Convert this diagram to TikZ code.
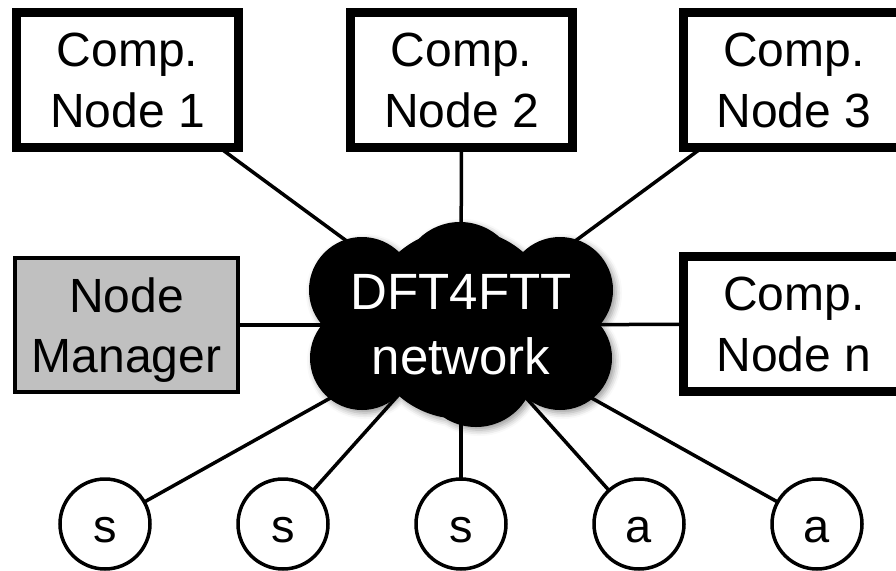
\documentclass[tikz,border=0pt]{standalone}
\usepackage{fontspec}
\setmainfont{Liberation Sans}
\usetikzlibrary{shadows.blur,backgrounds}
\definecolor{mgrgray}{RGB}{192,192,192}

\begin{document}
\begin{tikzpicture}[x=1pt,y=-1pt,
  compbox/.style={draw, line width=9pt, fill=white, minimum width=222pt,
    minimum height=135pt, inner sep=0pt, align=center,
    font=\fontsize{48}{61}\selectfont},
  mgrbox/.style={draw, line width=3.5pt, fill=mgrgray, minimum width=223pt,
    minimum height=134pt, inner sep=0pt, align=center, text depth=0pt,
    font=\fontsize{48}{60}\selectfont},
  device/.style={circle, draw, line width=3.5pt, fill=white, minimum size=90pt,
    inner sep=0pt, text height=37pt, text depth=0pt,
    font=\fontsize{47}{55}\selectfont},
  netlabel/.style={text=white, align=center, inner sep=0pt,
    font=\fontsize{51}{65}\selectfont},
  link/.style={line width=3.5pt}]

\useasboundingbox (0,0) rectangle (896,570);

% computing nodes and the manager
\node[compbox] (b1) at (127.5,80) {Comp.\\Node 1};
\node[compbox] (b2) at (461.5,80) {Comp.\\Node 2};
\node[compbox] (b3) at (794,80) {Comp.\\Node 3};
\node[compbox] (bn) at (794,324) {Comp.\\Node n};
\node[mgrbox] (mgr) at (126.5,325) {Node\\Manager};

% sensors and actuators
\node[device] (d1) at (105,524) {s};
\node[device] (d2) at (283,524) {s};
\node[device] (d3) at (461,524) {s};
\node[device] (d4) at (639,524) {a};
\node[device] (d5) at (817,524) {a};

% the network cloud, built from overlapping puffs
\fill[black, blur shadow={shadow xshift=3pt, shadow yshift=-3pt,
    shadow blur radius=6pt, shadow opacity=40}]
  (460,281) circle (59pt)
  (362,290) circle (53pt)
  (560,290) circle (53pt)
  (362,358) circle (52pt)
  (560,358) circle (52pt)
  (476,368) circle (59pt)
  (461,324) circle (95pt);
\node[netlabel] (net) at (461,325) {DFT4FTT\\network};

% links to the network
\begin{pgfonlayer}{background}
  \foreach \n in {b1,b2,b3,bn,mgr,d1,d2,d3,d4,d5}
    \draw[link] (\n.center) -- (net.center);
\end{pgfonlayer}
\end{tikzpicture}
\end{document}
